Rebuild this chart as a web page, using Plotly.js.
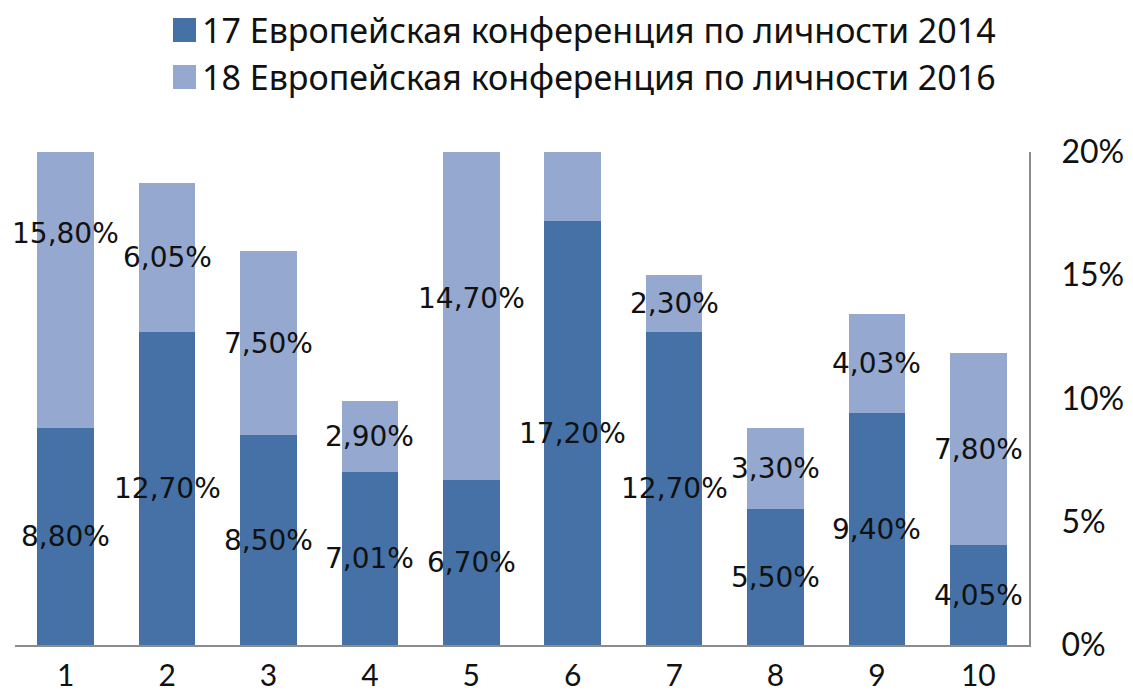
<!DOCTYPE html>
<html>
<head>
<meta charset="utf-8">
<script src="https://cdn.plot.ly/plotly-3.0.1.min.js"></script>
<style>html,body{margin:0;padding:0;background:#fff;}#chart{width:1133px;height:695px;}</style>
</head>
<body>
<div id="chart"></div>
<script>
var categories = ['1','2','3','4','5','6','7','8','9','10'];
var series2014 = [8.80, 12.70, 8.50, 7.01, 6.70, 17.20, 12.70, 5.50, 9.40, 4.05];
var series2016 = [15.80, 6.05, 7.50, 2.90, 14.70, 6.50, 2.30, 3.30, 4.03, 7.80];
var name2014 = '17 Европейская конференция по личности 2014';
var name2016 = '18 Европейская конференция по личности 2016';
var yTickVals = [0, 5, 10, 15, 20];
var yTickText = ['0%', '5%', '10%', '15%', '20%'];
var color2014 = '#4571A6';
var color2016 = '#94A8D0';

function fmt(v){ return v.toFixed(2).replace('.', ',') + '%'; }

var M = {l:15, r:104, t:152, b:50};
var W = 1133, H = 695;
var PW = W - M.l - M.r, PH = H - M.t - M.b;
function px(x){ return (x - M.l) / PW; }
function py(y){ return (H - M.b - y) / PH; }

var traces = [
  {type:'bar', x:categories, y:series2014, name:name2014, marker:{color:color2014}, hoverinfo:'none', showlegend:false},
  {type:'bar', x:categories, y:series2016, name:name2016, marker:{color:color2016}, hoverinfo:'none', showlegend:false}
];

var annotations = [];
var labelFont = {family:'"DejaVu Sans", sans-serif', size:28, color:'#111'};
categories.forEach(function(c, i){
  annotations.push({x:i, y:series2014[i]/2, xref:'x', yref:'y', text:fmt(series2014[i]), showarrow:false, font:labelFont});
  var mid2 = series2014[i] + series2016[i]/2;
  if (mid2 <= 20) {
    annotations.push({x:i, y:mid2, xref:'x', yref:'y', text:fmt(series2016[i]), showarrow:false, font:labelFont});
  }
});

// custom legend
var legendFont = {family:'"Noto Sans", sans-serif', size:34, color:'#111'};
var legendItems = [[name2014, color2014, 30], [name2016, color2016, 77]];
var shapes = [];
legendItems.forEach(function(it){
  shapes.push({type:'rect', xref:'paper', yref:'paper', x0:px(173), x1:px(196), y0:py(it[2]+12), y1:py(it[2]-12),
    fillcolor:it[1], line:{width:0}});
  annotations.push({xref:'paper', yref:'paper', x:px(200), y:py(it[2]), xanchor:'left', yanchor:'middle',
    text:it[0], showarrow:false, font:legendFont});
});

var layout = {
  width:W, height:H,
  margin:M,
  paper_bgcolor:'#fff', plot_bgcolor:'#fff',
  barmode:'stack', bargap:0.44,
  showlegend:false,
  xaxis:{type:'category', range:[-0.5, 9.5], autorange:false, showline:true, linecolor:'#8c8c8c', linewidth:2, ticks:'', showgrid:false, zeroline:false,
    tickfont:{family:'Lato, sans-serif', size:30, color:'#111'}, ticklabelstandoff:3, fixedrange:true},
  yaxis:{side:'right', range:[0,20], autorange:false, tickvals:yTickVals, ticktext:yTickText, showline:true, linecolor:'#8c8c8c', linewidth:2,
    ticks:'', showgrid:false, zeroline:false, tickfont:{family:'Lato, sans-serif', size:32, color:'#111'}, ticklabelstandoff:24, fixedrange:true},
  annotations:annotations,
  shapes:shapes
};

Plotly.newPlot('chart', traces, layout, {staticPlot:true});
</script>
</body>
</html>
